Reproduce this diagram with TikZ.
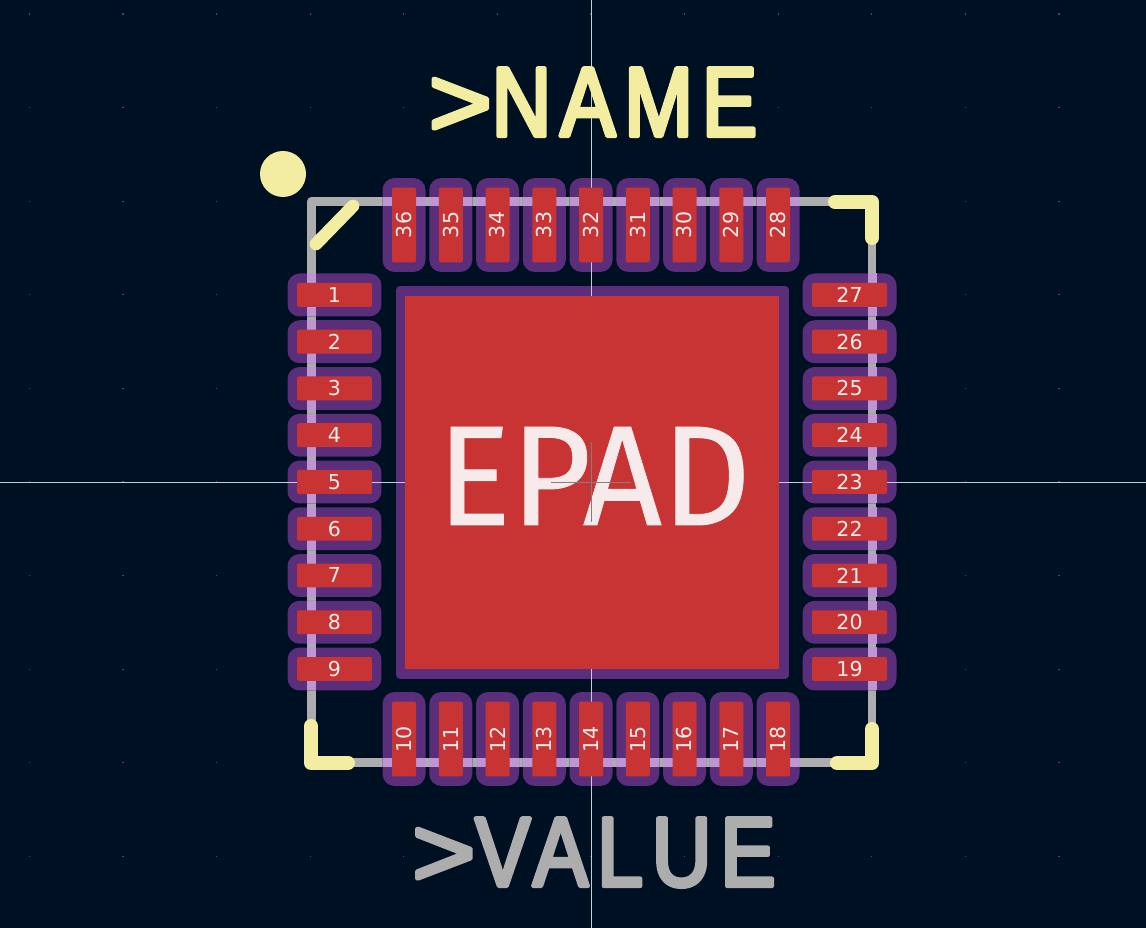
\documentclass[tikz,border=0pt]{standalone}
\usepackage{graphicx}
\usepackage{fontspec}
\setmainfont{DejaVu Sans}
\newfontfamily\epadfont[FakeStretch=0.97,FakeBold=0.6]{Fira Sans}
\newfontfamily\silkfont[FakeStretch=0.84,FakeBold=4.2,LetterSpace=9]{Liberation Sans}
\newcommand{\silktext}[1]{\special{pdf:code 1 j 1 J}\scalebox{1.3}[1]{>}#1}
\definecolor{boardbg}{HTML}{001023}
\definecolor{padred}{HTML}{C83434}
\definecolor{maskpurple}{HTML}{5A2E7A}
\definecolor{masksilk}{HTML}{BE97D2}
\definecolor{silkgray}{HTML}{ADADAD}
\definecolor{silkyellow}{HTML}{F2EDA1}
\definecolor{padtext}{HTML}{F6EAEA}
\definecolor{griddot}{HTML}{44525F}
\definecolor{crossline}{HTML}{C4CCD4}
\tikzset{
  mask/.style={fill=maskpurple,rounded corners=0.24cm,inner sep=0,minimum width=1.88cm,minimum height=0.86cm},
  padh/.style={fill=padred,rounded corners=0.04cm,inner sep=0,minimum width=1.5cm,minimum height=0.48cm,text=padtext,font=\fontsize{11.7}{11.7}\selectfont},
  padv/.style={padh,rotate=90},
  overlap/.style={fill=masksilk},
  silkline/.style={draw=silkgray,line width=5pt,line join=round},
  fabmark/.style={draw=silkyellow,line width=8pt,line cap=round,line join=round},
  crosshair/.style={draw=crossline,line width=0.5pt}
}
\begin{document}
\begin{tikzpicture}[x=0.02cm,y=-0.02cm]
\useasboundingbox (0,0) rectangle (1146,928);
\fill[boardbg] (0,0) rectangle (1146,928);
% ---------- grid ----------
\foreach \i in {-6,...,6}{
  \foreach \j in {-5,...,4}{
    \fill[griddot] (591+93.6*\i-0.6,482+93.6*\j-0.6) rectangle ++(1.2,1.2);}}
% ---------- outline ----------
\draw[silkline] (311.5,201.5) rectangle (872,762.5);
% ---------- solder mask ----------
\foreach \n in {1,...,9}{
  \pgfmathsetmacro{\py}{295+46.75*(\n-1)}
  \node[mask] (ml\n) at (334.5,\py) {};
  \fill[overlap] (307,\py-21.5) rectangle (316,\py+21.5);}
\foreach \n in {19,...,27}{
  \pgfmathsetmacro{\py}{669-46.75*(\n-19)}
  \node[mask] (mr\n) at (849.5,\py) {};
  \fill[overlap] (867.5,\py-21.5) rectangle (876.5,\py+21.5);}
\foreach \n in {28,...,36}{
  \pgfmathsetmacro{\px}{778-46.75*(\n-28)}
  \node[mask,rotate=90] (mt\n) at (\px,225) {};
  \fill[overlap] (\px-21.5,197) rectangle (\px+21.5,206);}
\foreach \n in {10,...,18}{
  \pgfmathsetmacro{\px}{404+46.75*(\n-10)}
  \node[mask,rotate=90] (mb\n) at (\px,739) {};
  \fill[overlap] (\px-21.5,758) rectangle (\px+21.5,767);}
\node[fill=maskpurple,rounded corners=0.08cm,inner sep=0,minimum size=7.86cm] (epadmask) at (592.5,482.5) {};
% ---------- crosshair ----------
\draw[crosshair] (591,0) -- (591,928);
\draw[crosshair] (0,482) -- (1146,482);
% ---------- copper pads ----------
\foreach \n in {1,...,9}{
  \pgfmathsetmacro{\py}{295+46.75*(\n-1)}
  \node[padh] (pad\n) at (334.5,\py) {\n};}
\foreach \n in {19,...,27}{
  \pgfmathsetmacro{\py}{669-46.75*(\n-19)}
  \node[padh] (pad\n) at (849.5,\py) {\n};}
\foreach \n in {28,...,36}{
  \pgfmathsetmacro{\px}{778-46.75*(\n-28)}
  \node[padv] (pad\n) at (\px,225) {\n};}
\foreach \n in {10,...,18}{
  \pgfmathsetmacro{\px}{404+46.75*(\n-10)}
  \node[padv] (pad\n) at (\px,739) {\n};}
\node[fill=padred,inner sep=0,minimum size=7.48cm] (epad) at (592,482.5) {};
\node[anchor=base,inner sep=0,text=padtext,font=\epadfont\fontsize{81}{81}\selectfont] (epadtext) at (594,525) {EPAD};
\draw[gray,line width=0.5pt] (551,482) -- (631,482);
\draw[gray,line width=0.5pt] (591,442) -- (591,522);
% ---------- corner marks ----------
\draw[fabmark] (835,202) -- (872,202) -- (872,238);
\draw[fabmark] (837,763) -- (872,763) -- (872,729);
\draw[fabmark] (311,726) -- (311,763) -- (348,763);
\draw[silkyellow,line width=7.2pt,line cap=round] (353,206) -- (316,244);
\fill[silkyellow] (283,174) circle (23);
% ---------- reference and value ----------
\node[anchor=base,inner sep=0,text=silkyellow,font=\silkfont\fontsize{56}{56}\selectfont] (refname) at (593,136) {\silktext{NAME}};
\node[anchor=base,inner sep=0,text=silkgray,font=\silkfont\fontsize{56}{56}\selectfont] (refvalue) at (594,886) {\silktext{VALUE}};
\end{tikzpicture}
\end{document}
